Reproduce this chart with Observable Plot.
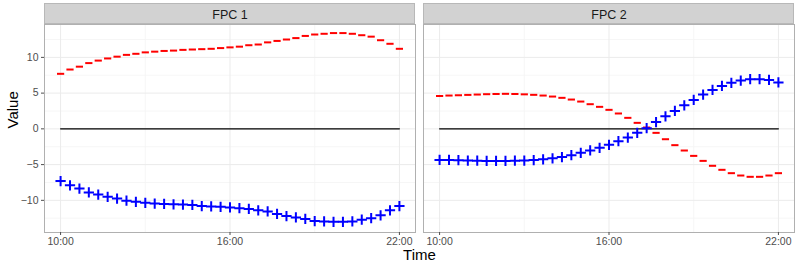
<!DOCTYPE html>
<html><head><meta charset="utf-8">
<script src="https://cdn.jsdelivr.net/npm/d3@7"></script>
<script src="https://cdn.jsdelivr.net/npm/@observablehq/plot@0.6"></script>
<style>body{margin:0;background:#fff} #chart{width:800px;height:265px}</style>
</head><body><div id="chart"></div>
<script>
const panels = ["FPC 1", "FPC 2"];
const times = ["10:00","10:20","10:40","11:00","11:20","11:40","12:00","12:20","12:40","13:00","13:20","13:40",
  "14:00","14:20","14:40","15:00","15:20","15:40","16:00","16:20","16:40","17:00","17:20","17:40",
  "18:00","18:20","18:40","19:00","19:20","19:40","20:00","20:20","20:40","21:00","21:20","21:40","22:00"];
const xTickLabels = ["10:00","16:00","22:00"];
const xMinorLabels = ["13:00","19:00"];
const yTicks = [-10, -5, 0, 5, 10];
const yMinor = [-12.5, -7.5, -2.5, 2.5, 7.5, 12.5];

// red "-" markers
const fpc1Minus = [7.7, 8.3, 8.7, 9.2, 9.55, 9.85, 10.1, 10.35, 10.5, 10.7, 10.8, 10.9, 10.95, 11.05, 11.1, 11.15, 11.2, 11.3, 11.4, 11.5, 11.7, 11.8, 12.1, 12.3, 12.5, 12.7, 13.0, 13.2, 13.3, 13.4, 13.4, 13.3, 13.1, 12.9, 12.4, 11.9, 11.2];
// blue "+" markers
const fpc1Plus = [-7.3, -7.9, -8.35, -8.9, -9.2, -9.5, -9.75, -10.05, -10.2, -10.35, -10.45, -10.5, -10.55, -10.6, -10.65, -10.8, -10.85, -10.9, -11.0, -11.1, -11.2, -11.4, -11.55, -11.9, -12.2, -12.4, -12.6, -12.9, -12.95, -13.0, -13.0, -12.95, -12.7, -12.5, -12.1, -11.4, -10.8];
const fpc2Minus = [4.6, 4.66, 4.7, 4.75, 4.8, 4.85, 4.88, 4.9, 4.88, 4.83, 4.76, 4.66, 4.52, 4.34, 4.1, 3.82, 3.45, 3.08, 2.66, 2.15, 1.54, 0.84, 0.19, -0.56, -1.45, -2.28, -3.03, -3.78, -4.48, -5.17, -5.73, -6.2, -6.53, -6.71, -6.71, -6.53, -6.2];
const fpc2Plus = [-4.34, -4.34, -4.38, -4.43, -4.45, -4.48, -4.48, -4.48, -4.46, -4.43, -4.36, -4.26, -4.12, -3.94, -3.68, -3.36, -3.02, -2.65, -2.24, -1.73, -1.21, -0.56, 0.1, 0.95, 1.75, 2.5, 3.3, 4.05, 4.8, 5.45, 6.0, 6.45, 6.75, 6.95, 6.95, 6.85, 6.5];

const hour = s => { const [h, m] = s.split(":").map(Number); return h + m / 60; };
const fmt = h => `${Math.floor(h)}:${String(Math.round((h % 1) * 60)).padStart(2, "0")}`;
const xDomain = [9.43, 22.57];

const minusRows = [], plusRows = [], zeroRows = [];
[[panels[0], fpc1Minus, fpc1Plus], [panels[1], fpc2Minus, fpc2Plus]].forEach(([p, mi, pl]) => {
  times.forEach((t, i) => {
    minusRows.push({panel: p, t: hour(t), value: mi[i]});
    plusRows.push({panel: p, t: hour(t), value: pl[i]});
    zeroRows.push({panel: p, t: hour(t), value: 0});
  });
});

const dashSymbol = {draw(ctx, size) { const r = Math.sqrt(size / Math.PI); ctx.moveTo(-r, 0); ctx.lineTo(r, 0); }};

function strip(index, scales, values, dimensions) {
  const x0 = scales.x(xDomain[0]), x1 = scales.x(xDomain[1]);
  const g = d3.create("svg:g");
  g.append("rect")
    .attr("x", x0 + 0.5).attr("y", dimensions.marginTop - 20.5)
    .attr("width", x1 - x0 - 1).attr("height", 20)
    .attr("fill", "#d2d2d2").attr("stroke", "#b8b8b8");
  return g.node();
}

const chart = Plot.plot({
  width: 800, height: 265,
  marginLeft: 43, marginRight: 5, marginTop: 24, marginBottom: 33,
  style: {fontFamily: "'Liberation Sans', Arial, sans-serif", background: "white"},
  fx: {domain: panels, paddingInner: 0.021, paddingOuter: 0, axis: null, label: null},
  x: {domain: xDomain, axis: null},
  y: {domain: [-14.5, 14.6], axis: null},
  marks: [
    Plot.gridY(yMinor, {stroke: "#f4f4f4", strokeOpacity: 1, strokeWidth: 0.8}),
    Plot.gridX(xMinorLabels.map(hour), {stroke: "#f4f4f4", strokeOpacity: 1, strokeWidth: 0.8}),
    Plot.gridY(yTicks, {stroke: "#ebebeb", strokeOpacity: 1}),
    Plot.gridX(xTickLabels.map(hour), {stroke: "#ebebeb", strokeOpacity: 1}),
    Plot.frame({stroke: "#b0b0b0"}),
    strip,
    Plot.text(panels, {fx: d => d, frameAnchor: "top", dy: -10, fontSize: 12.5, fill: "#1a1a1a", lineAnchor: "middle"}),
    Plot.axisY(yTicks, {tickSize: 3, tickPadding: 3, fontSize: 10.5, color: "#4d4d4d", label: null}),
    Plot.axisX(xTickLabels.map(hour), {tickSize: 3, tickPadding: 2, fontSize: 10.5, color: "#4d4d4d", tickFormat: fmt, label: null}),
    Plot.line(zeroRows, {fx: "panel", x: "t", y: "value", stroke: "black", strokeWidth: 1.2}),
    Plot.dot(minusRows, {fx: "panel", x: "t", y: "value", symbol: dashSymbol, r: 3.6, stroke: "#ff0000", fill: "none", strokeWidth: 2}),
    Plot.dot(plusRows, {fx: "panel", x: "t", y: "value", symbol: "plus", r: 3.4, stroke: "#0000ff", strokeWidth: 2}),
    Plot.text(["Time"], {facet: "super", frameAnchor: "bottom", dy: 23, fontSize: 15, fill: "black", lineAnchor: "middle"}),
    Plot.text(["Value"], {facet: "super", frameAnchor: "left", dx: -31, rotate: -90, fontSize: 15, fill: "black", lineAnchor: "middle"})
  ]
});
document.getElementById("chart").appendChild(chart);
</script>
</body></html>
